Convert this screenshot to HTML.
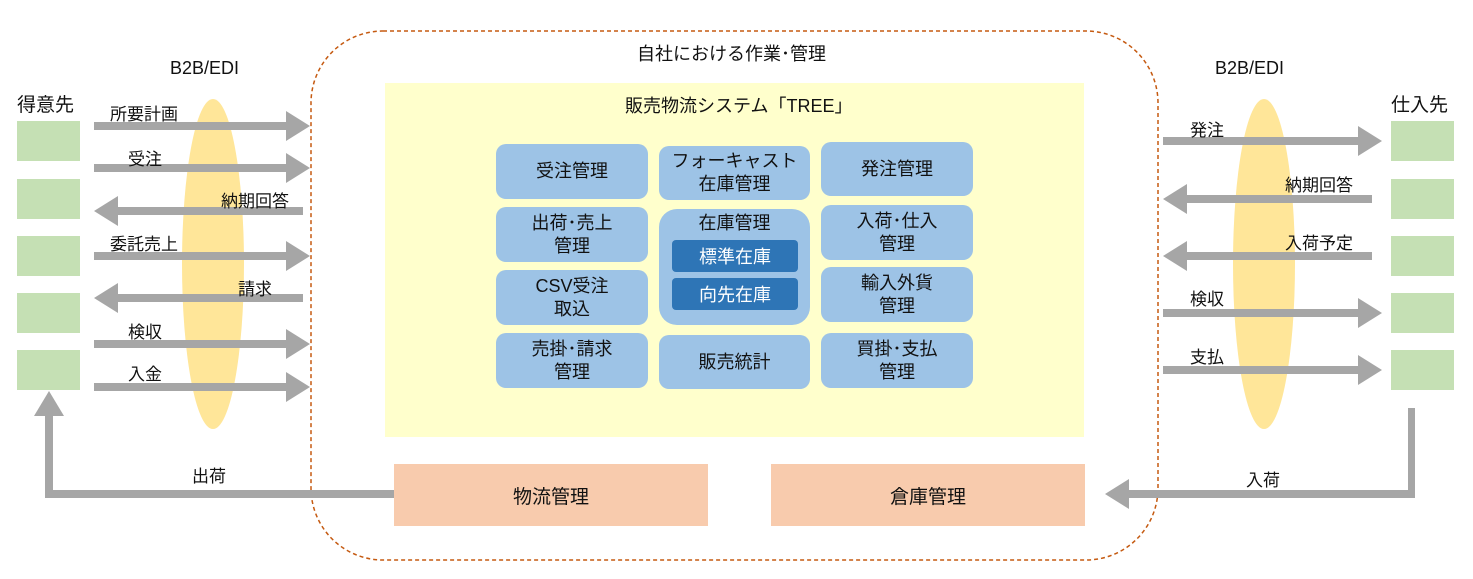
<!DOCTYPE html>
<html><head><meta charset="utf-8"><style>
body{margin:0;width:1473px;height:579px;background:#fff;position:relative;overflow:hidden;font-family:"Liberation Sans","Noto Sans CJK JP",sans-serif;color:#111}
.a{position:absolute}
.g{position:absolute;background:#c5e0b4;width:63px;height:40px}
.b{position:absolute;background:#9dc3e6;border-radius:10px;display:flex;align-items:center;justify-content:center;text-align:center;font-size:18px;line-height:23px}
.d{position:absolute;background:#2e75b6;color:#fff;border-radius:4px;left:672px;width:126px;height:32px;display:flex;align-items:center;justify-content:center;font-size:18px}
.t{position:absolute;font-size:17px;white-space:nowrap}
.o{position:absolute;background:#f8cbad;display:flex;align-items:center;justify-content:center;font-size:19px}
</style></head><body>
<svg class="a" style="left:0;top:0" width="1473" height="579">
<ellipse cx="213" cy="264" rx="31" ry="165" fill="#ffe699"/>
<ellipse cx="1264" cy="264" rx="31" ry="165" fill="#ffe699"/>
<rect x="311" y="31" width="847" height="529" rx="72" fill="none" stroke="#c55a11" stroke-width="1.5" stroke-dasharray="4,3"/>
<g fill="#a6a6a6">
<path d="M94 122h192v-11l24 15-24 15v-11h-192z"/>
<path d="M94 164h192v-11l24 15-24 15v-11h-192z"/>
<path d="M303 207h-185v-11l-24 15 24 15v-11h185z"/>
<path d="M94 252h192v-11l24 15-24 15v-11h-192z"/>
<path d="M303 294h-185v-11l-24 15 24 15v-11h185z"/>
<path d="M94 340h192v-11l24 15-24 15v-11h-192z"/>
<path d="M94 383h192v-11l24 15-24 15v-11h-192z"/>
<path d="M1163 137h195v-11l24 15-24 15v-11h-195z"/>
<path d="M1372 195h-185v-11l-24 15 24 15v-11h185z"/>
<path d="M1372 252h-185v-11l-24 15 24 15v-11h185z"/>
<path d="M1163 309h195v-11l24 15-24 15v-11h-195z"/>
<path d="M1163 366h195v-11l24 15-24 15v-11h-195z"/>
<path d="M394 490v8h-349v-82h-11l15-25 15 25h-11v74z"/>
<path d="M1408 408h7v90h-286v11l-24-15 24-15v11h279z"/>
</g>
</svg>
<div class="a" style="left:385px;top:83px;width:699px;height:354px;background:#ffffcc"></div>
<div class="t" style="left:17px;top:90px;font-size:19px">得意先</div>
<div class="t" style="left:1391px;top:90px;font-size:19px">仕入先</div>
<div class="t" style="left:170px;top:58px;font-size:18px">B2B/EDI</div>
<div class="t" style="left:1215px;top:58px;font-size:18px">B2B/EDI</div>
<div class="g" style="left:17px;top:121px"></div><div class="g" style="left:17px;top:179px"></div><div class="g" style="left:17px;top:236px"></div><div class="g" style="left:17px;top:293px"></div><div class="g" style="left:17px;top:350px"></div>
<div class="g" style="left:1391px;top:121px"></div><div class="g" style="left:1391px;top:179px"></div><div class="g" style="left:1391px;top:236px"></div><div class="g" style="left:1391px;top:293px"></div><div class="g" style="left:1391px;top:350px"></div>
<div class="t" style="left:110px;top:100px">所要計画</div>
<div class="t" style="left:128px;top:145px">受注</div>
<div class="t" style="left:221px;top:187px">納期回答</div>
<div class="t" style="left:110px;top:230px">委託売上</div>
<div class="t" style="left:238px;top:275px">請求</div>
<div class="t" style="left:128px;top:318px">検収</div>
<div class="t" style="left:128px;top:360px">入金</div>
<div class="t" style="left:1190px;top:116px">発注</div>
<div class="t" style="left:1285px;top:171px">納期回答</div>
<div class="t" style="left:1285px;top:229px">入荷予定</div>
<div class="t" style="left:1190px;top:285px">検収</div>
<div class="t" style="left:1190px;top:343px">支払</div>
<div class="t" style="left:192px;top:462px">出荷</div>
<div class="t" style="left:1246px;top:466px">入荷</div>
<div class="t" style="left:637px;top:40px;font-size:18px">自社における作業･管理</div>
<div class="t" style="left:625px;top:92px;font-size:18px">販売物流システム「TREE」</div>
<div class="b" style="left:496px;top:144px;width:152px;height:55px">受注管理</div>
<div class="b" style="left:496px;top:207px;width:152px;height:55px">出荷･売上<br>管理</div>
<div class="b" style="left:496px;top:270px;width:152px;height:55px">CSV受注<br>取込</div>
<div class="b" style="left:496px;top:333px;width:152px;height:55px">売掛･請求<br>管理</div>
<div class="b" style="left:659px;top:146px;width:151px;height:54px">フォーキャスト<br>在庫管理</div>
<div class="b" style="left:659px;top:209px;width:151px;height:116px;border-radius:18px;align-items:flex-start;padding-top:3px;box-sizing:border-box">在庫管理</div>
<div class="d" style="top:240px">標準在庫</div>
<div class="d" style="top:278px">向先在庫</div>
<div class="b" style="left:659px;top:335px;width:151px;height:54px">販売統計</div>
<div class="b" style="left:821px;top:142px;width:152px;height:54px">発注管理</div>
<div class="b" style="left:821px;top:205px;width:152px;height:55px">入荷･仕入<br>管理</div>
<div class="b" style="left:821px;top:267px;width:152px;height:55px">輸入外貨<br>管理</div>
<div class="b" style="left:821px;top:333px;width:152px;height:55px">買掛･支払<br>管理</div>
<div class="o" style="left:394px;top:464px;width:314px;height:62px">物流管理</div>
<div class="o" style="left:771px;top:464px;width:314px;height:62px">倉庫管理</div>
</body></html>
